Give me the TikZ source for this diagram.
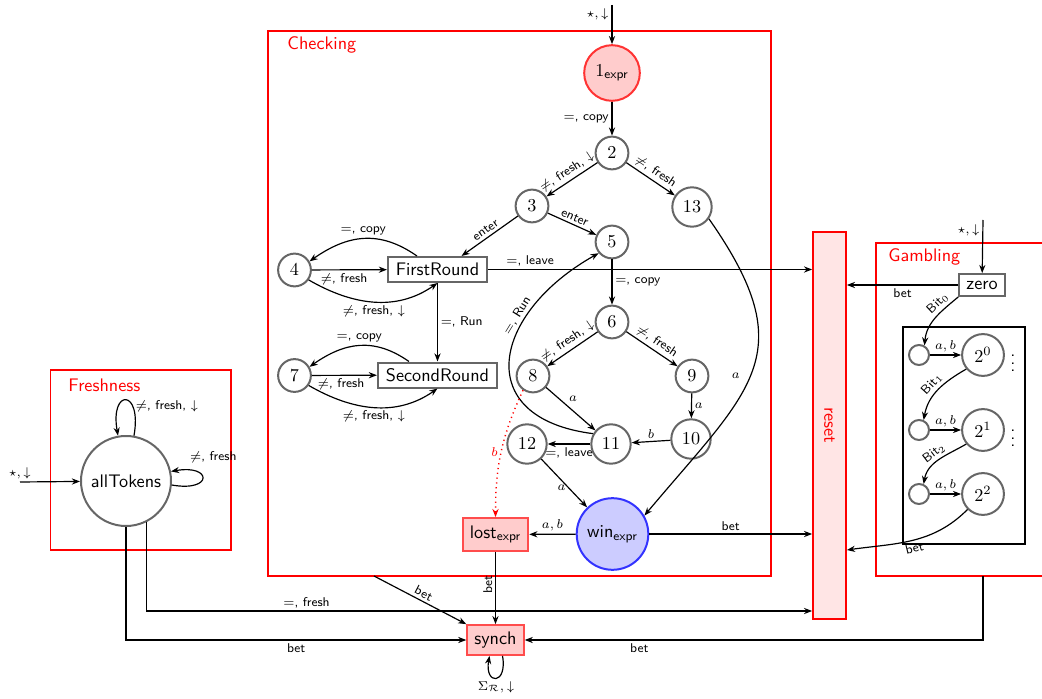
\documentclass[tikz,border=0pt]{standalone}
\usepackage{amsmath,amssymb}
\usetikzlibrary{arrows.meta,calc}
\begin{document}
\begin{tikzpicture}[x=0.55pt,y=0.55pt,font=\sffamily,
  arr/.style={-{Stealth[length=4.5pt,width=3.4pt]},line width=0.65pt},
  st/.style={circle,draw=black!60,line width=1.1pt,inner sep=3.5pt,minimum size=17.6pt,fill=white},
  stbox/.style={rectangle,draw=black!60,line width=1.1pt,inner xsep=2pt,inner ysep=0pt,minimum height=13.75pt,fill=white},
  lbl/.style={font=\sffamily\scriptsize,inner sep=1.5pt},
  frame/.style={draw=red,line width=0.7pt},
  ftitle/.style={text=red,anchor=west,font=\sffamily}]
\useasboundingbox (0,0) rectangle (1042,698);
% frames
\draw[frame] (268,122) rectangle (771,667);
\node[ftitle] (tC) at (281,653) {Checking};
\draw[frame] (50.7,148) rectangle (231,328);
\node[ftitle] (tF) at (62,313) {Freshness};
\draw[frame] (1060,455) -- (876,455) -- (876,122) -- (1060,122);
\node[ftitle] (tG) at (882,441) {Gambling};
\draw[line width=0.7pt] (903,154) rectangle (1025,371);
% nodes
\node[st,draw=red!80,fill=red!20,minimum size=30.6pt,inner sep=1pt] (e1) at (612,625) {$1_{\textsf{expr}}$};
\node[st] (n2) at (612,545) {$2$};
\node[st] (n3) at (532,492) {$3$};
\node[st] (n13) at (692,491) {$13$};
\node[st] (n5) at (612,456) {$5$};
\node[st] (n4) at (294.5,428) {$4$};
\node[stbox,minimum width=54.5pt] (FR) at (437.5,428.5) {FirstRound};
\node[st] (n6) at (612,376) {$6$};
\node[st] (n8) at (533,322) {$8$};
\node[st] (n9) at (692,322) {$9$};
\node[st] (n7) at (294.5,322.5) {$7$};
\node[stbox,minimum width=65.5pt] (SR) at (437.5,323) {SecondRound};
\node[st] (n10) at (691,259) {$10$};
\node[st] (n11) at (611,254) {$11$};
\node[st] (n12) at (527,254) {$12$};
\node[circle,draw=blue!80,fill=blue!20,line width=1.1pt,minimum size=39.4pt,inner sep=1pt] (win) at (612.5,164) {win$_{\textsf{expr}}$};
\node[stbox,draw=red!70,fill=red!20,minimum width=36pt,minimum height=18pt] (lost) at (495.5,163.5) {lost$_{\textsf{expr}}$};
\node[stbox,draw=red!70,fill=red!20,minimum width=31pt,minimum height=16.3pt] (synch) at (495.5,58) {synch};
\node[circle,draw=black!60,line width=1.1pt,minimum size=49.5pt,inner sep=0pt] (aT) at (126,217) {allTokens};
\node[stbox,minimum width=25pt,minimum height=12pt] (zero) at (982,413) {zero};
\node[circle,draw=black!60,line width=1.1pt,minimum size=11pt,inner sep=0pt] (s0) at (919,343) {};
\node[circle,draw=black!60,line width=1.1pt,minimum size=11pt,inner sep=0pt] (s1) at (919,268) {};
\node[circle,draw=black!60,line width=1.1pt,minimum size=11pt,inner sep=0pt] (s2) at (919,204) {};
\node[st,minimum size=23pt] (p0) at (983,343) {$2^0$};
\node[st,minimum size=23pt] (p1) at (983,268) {$2^1$};
\node[st,minimum size=23pt] (p2) at (983,204) {$2^2$};
\node (vd1) at (1013,340) {$\vdots$};
\node (vd2) at (1013,265) {$\vdots$};
\node[draw=red,fill=red!10,line width=1.1pt,minimum width=18pt,minimum height=213pt,inner sep=0pt] (reset) at (829.5,272.5) {};
\node[text=red,rotate=-90] (resetlbl) at (reset.center) {reset};
% coordinates
\coordinate (in1) at (612,693);
\coordinate (in2) at (983,478);
\coordinate (in3) at (20,216);
\coordinate (cb) at (374,122);
\coordinate (gb) at (983,122);
\coordinate (r1) at (reset.west |- 0,87);
\coordinate (r2) at (reset.east |- 0,148);
% checking edges
\draw[arr] (in1) -- node[lbl,left,pos=0.25] {$\star,\downarrow$} (e1);
\draw[arr] (e1) -- node[lbl,left] {$=$, copy} (n2);
\draw[arr] (n2) -- node[lbl,above,sloped] {$\neq$, fresh, $\downarrow$} (n3);
\draw[arr] (n2) -- node[lbl,above,sloped] {$\neq$, fresh} (n13);
\draw[arr] (n3) -- node[lbl,above,sloped] {enter} ($(FR.north)+(24,0)$);
\draw[arr] (n3) -- node[lbl,above,sloped] {enter} (n5);
\draw[arr] (n13.-35) to[out=-55,in=50,looseness=1.4] node[lbl,left,pos=0.52,xshift=-4pt] {$a$} (win.30);
\draw[arr] ($(FR.north west)+(30,0)$) to[out=145,in=35,looseness=1.1] node[lbl,above] {$=$, copy} (n4.30);
\draw[arr] (n4) -- node[lbl,below,pos=0.43] {$\neq$, fresh} (FR);
\draw[arr] (n4.-35) to[out=-30,in=-145] node[lbl,below] {$\neq$, fresh, $\downarrow$} (FR.south);
\draw[arr] (FR.east) -- node[lbl,above,pos=0.13] {$=$, leave} (FR.east -| reset.west);
\draw[arr] (FR) -- node[lbl,right] {$=$, Run} (SR);
\draw[arr] ($(SR.north west)+(32,0)$) to[out=145,in=35,looseness=1.1] node[lbl,above] {$=$, copy} (n7.30);
\draw[arr] (n7) -- node[lbl,below,pos=0.45] {$\neq$, fresh} (SR);
\draw[arr] (n7.-35) to[out=-30,in=-145] node[lbl,below] {$\neq$, fresh, $\downarrow$} (SR.south);
\draw[arr] (n5) -- node[lbl,right] {$=$, copy} (n6);
\draw[arr] (n11.150) .. controls (470,280) and (492,385) .. node[lbl,above,sloped,pos=0.68] {$=$, Run} (n5.-140);
\draw[arr] (n6) -- node[lbl,above,sloped] {$\neq$, fresh, $\downarrow$} (n8);
\draw[arr] (n6) -- node[lbl,above,sloped] {$\neq$, fresh} (n9);
\draw[arr] (n8) -- node[lbl,above right,pos=0.4] {$a$} (n11);
\draw[arr] (n9) -- node[lbl,right] {$a$} (n10);
\draw[arr] (n10) -- node[lbl,above] {$b$} (n11);
\draw[arr] (n11) -- node[lbl,below] {$=$, leave} (n12);
\draw[arr] (n12) -- node[lbl,left,pos=0.6] {$a$} (win);
\draw[arr,red,dotted,line width=0.8pt] (n8.-125) to[out=-115,in=90] node[lbl,left,text=red] {$b$} (lost.north);
\draw[arr] (win) -- node[lbl,above] {$a, b$} (lost);
\draw[arr] (win) -- node[lbl,above] {bet} (win.east -| reset.west);
\draw[arr] (lost) -- node[lbl,rotate=90,anchor=south,pos=0.45] {bet} (synch);
\draw[arr] (cb) -- node[lbl,above,sloped] {bet} (synch.north west);
% freshness
\draw[arr] (in3) -- node[lbl,above,pos=0] {$\star,\downarrow$} (aT);
\draw[arr] (aT.80) .. controls +(80:48) and +(100:48) .. node[lbl,right,pos=0.3] {$\neq$, fresh, $\downarrow$} (aT.100);
\draw[arr] (aT.-5) .. controls +(-10:42) and +(10:42) .. node[lbl,anchor=south west,pos=0.85,yshift=2pt] {$\neq$, fresh} (aT.12);
\draw[arr] (aT.-63) |- node[lbl,above,pos=0.62] {$=$, fresh} (r1);
\draw[arr] (aT.south) |- node[lbl,below,pos=0.75] {bet} (synch.west);
% gambling
\draw[arr] (gb) |- node[lbl,below,pos=0.875] {bet} (synch.east);
\draw[arr] (in2) -- node[lbl,left,pos=0.2] {$\star,\downarrow$} (zero);
\draw[arr] (zero.west) -- node[lbl,below,pos=0.5] {bet} (zero.west -| reset.east);
\draw[arr] (zero.south west) to[out=-140,in=85] node[lbl,above,sloped,pos=0.3] {Bit$_0$} (s0.60);
\draw[arr] (s0) -- node[lbl,above] {$a, b$} (p0);
\draw[arr] (p0.-140) to[out=-150,in=80] node[lbl,above,sloped] {Bit$_1$} (s1.65);
\draw[arr] (s1) -- node[lbl,above] {$a, b$} (p1);
\draw[arr] (p1.-140) to[out=-150,in=80] node[lbl,above,sloped] {Bit$_2$} (s2.65);
\draw[arr] (s2) -- node[lbl,above] {$a, b$} (p2);
\draw[arr] (p2.-135) to[out=-135,in=8] node[lbl,below,sloped] {bet} (r2);
% synch loop
\draw[arr] ($(synch.south)+(7,0)$) .. controls +(-80:30) and +(-100:30) .. node[lbl,below] {$\Sigma_{\mathcal{R}},\downarrow$} ($(synch.south)+(-6,0)$);
\end{tikzpicture}
\end{document}
